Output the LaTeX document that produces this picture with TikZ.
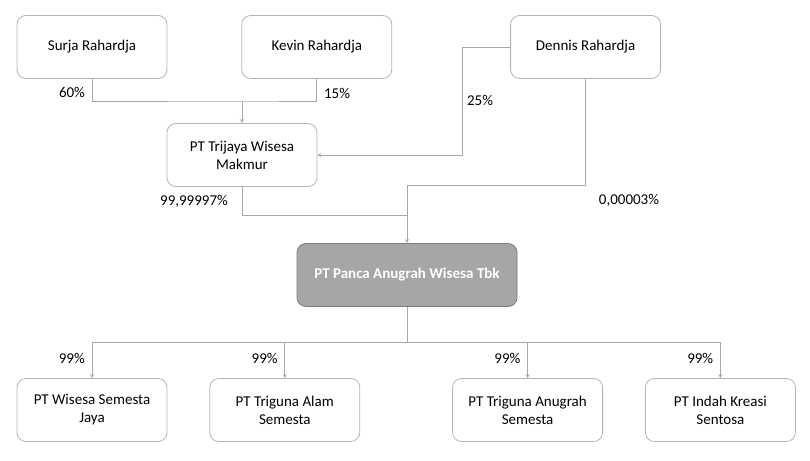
\documentclass[tikz,border=0pt]{standalone}
\usepackage{fontspec}
\setmainfont{Carlito}
\usepackage{tikz}
\usetikzlibrary{shapes.geometric, arrows, positioning}
\definecolor{boxgray}{RGB}{180,180,180}
\definecolor{linegray}{RGB}{168,168,168}
\definecolor{pancafill}{RGB}{166,166,166}
\definecolor{pancadraw}{RGB}{125,125,125}
\tikzstyle{holder} = [rectangle, rounded corners=9pt, minimum width=150pt, minimum height=63pt, text centered, align=center, draw=boxgray, line width=0.8pt]
\tikzstyle{company} = [holder, minimum width=220pt, fill=pancafill, draw=pancadraw, text=white, font=\fontsize{15}{18}\selectfont\bfseries]
\tikzstyle{pct} = [inner sep=0pt]
\tikzstyle{line} = [draw=linegray, line width=0.8pt]
\tikzstyle{arrow} = [line, ->, >=stealth]

\begin{document}
\begin{tikzpicture}[x=1pt, y=-1pt, font=\fontsize{15}{18}\selectfont]
\useasboundingbox (0,0) rectangle (810,460);
\node (surja) [holder] at (92,47) {Surja Rahardja};
\node (kevin) [holder, right=74pt of surja] {Kevin Rahardja};
\node (dennis) [holder, right=118pt of kevin] {Dennis Rahardja};
\node (trijaya) [holder] at (242,155) {PT Trijaya Wisesa\\Makmur};
\node (panca) [company] at (407,275) {PT Panca Anugrah Wisesa Tbk};
\node (wsj) [holder] at (92,410) {PT Wisesa Semesta\\Jaya};
\node (tas) [holder, right=42pt of wsj] {PT Triguna Alam\\Semesta};
\node (tag) [holder, right=92pt of tas] {PT Triguna Anugrah\\Semesta};
\node (iks) [holder, right=42pt of tag] {PT Indah Kreasi\\Sentosa};
% bends
\coordinate (topjoin) at (242,101);
\coordinate (dbend) at (462,155);
\coordinate (djoin) at (407,185);
\coordinate (tjoin) at (407,215);
\coordinate (bus) at (407,342);
% percentages
\node (p60) [pct] at (72,92) {60\%};
\node (p15) [pct] at (337,93) {15\%};
\node (p25) [pct] at (480,100) {25\%};
\node (ptw) [pct] at (194,201) {99,99997\%};
\node (pdr) [pct] at (629,200) {0,00003\%};
% connectors
\draw [line] (surja.south) |- (topjoin) -| (kevin.south);
\draw [arrow] (topjoin) -- (trijaya.north);
\draw [arrow] (dennis.west) -| (dbend) -- (trijaya.east);
\draw [line] (trijaya.south) |- (tjoin);
\draw [line] (dennis.south) |- (djoin);
\draw [arrow] (djoin) -- (panca.north);
\draw [line] (panca.south) -- (bus);
\foreach \c in {wsj,tas,tag,iks} {
  \draw [arrow] (bus) -| (\c.north);
  \node (pct-\c) [pct, left=7pt of \c.north, yshift=20pt] {99\%};
}
\end{tikzpicture}
\end{document}
